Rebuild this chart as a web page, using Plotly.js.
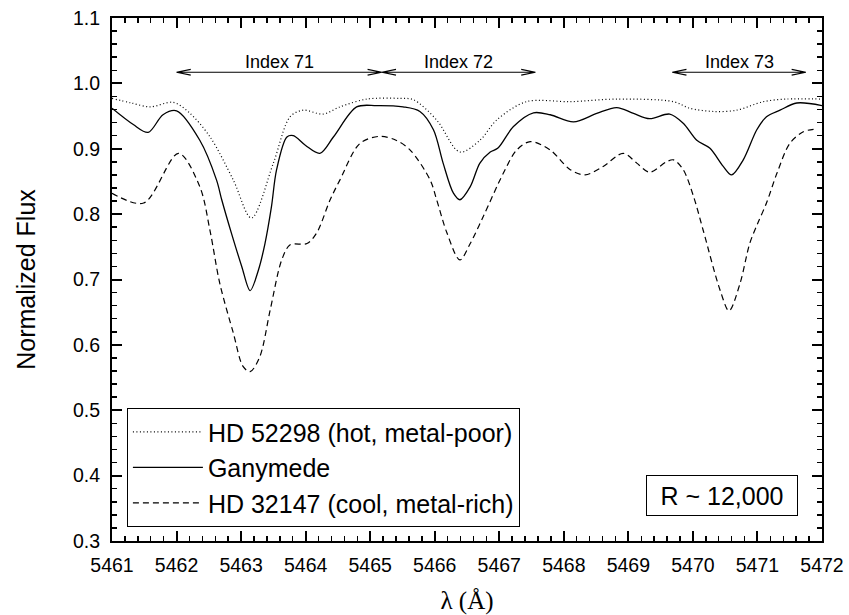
<!DOCTYPE html>
<html>
<head>
<meta charset="utf-8">
<script src="https://cdn.plot.ly/plotly-3.0.1.min.js"></script>
<style>
html,body{margin:0;padding:0;background:#fff;}
#chart{width:849px;height:615px;}
</style>
</head>
<body>
<div id="chart"></div>
<script>
// ---- Data ----
const hotWave = [5461.0, 5461.3, 5461.59, 5461.95, 5462.2, 5462.52, 5462.88, 5463.16, 5463.5, 5463.76, 5463.96, 5464.27, 5464.53, 5464.95, 5465.46, 5465.67, 5466.03, 5466.39, 5466.7, 5466.96, 5467.42, 5468.1, 5468.82, 5469.7, 5469.95, 5470.32, 5470.68, 5471.09, 5471.45, 5472.0];
const hotFlux = [0.977, 0.970, 0.964, 0.971, 0.955, 0.918, 0.852, 0.794, 0.878, 0.949, 0.959, 0.953, 0.964, 0.976, 0.977, 0.975, 0.944, 0.895, 0.913, 0.944, 0.972, 0.972, 0.976, 0.972, 0.962, 0.957, 0.959, 0.972, 0.976, 0.976];

const ganWave = [5461.0, 5461.33, 5461.56, 5461.79, 5462.0, 5462.36, 5462.62, 5462.7, 5462.85, 5463.01, 5463.14, 5463.27, 5463.37, 5463.47, 5463.55, 5463.71, 5463.81, 5464.0, 5464.22, 5464.43, 5464.79, 5465.1, 5465.51, 5465.77, 5465.98, 5466.13, 5466.29, 5466.39, 5466.55, 5466.7, 5466.86, 5466.98, 5467.22, 5467.53, 5467.79, 5468.15, 5468.51, 5468.82, 5469.08, 5469.33, 5469.64, 5469.85, 5470.06, 5470.26, 5470.47, 5470.6, 5470.78, 5470.99, 5471.14, 5471.35, 5471.61, 5472.0];
const ganFlux = [0.962, 0.937, 0.925, 0.952, 0.958, 0.913, 0.852, 0.822, 0.771, 0.720, 0.683, 0.715, 0.755, 0.811, 0.868, 0.918, 0.920, 0.905, 0.893, 0.918, 0.964, 0.966, 0.964, 0.957, 0.929, 0.878, 0.832, 0.822, 0.842, 0.878, 0.895, 0.901, 0.934, 0.955, 0.952, 0.941, 0.954, 0.963, 0.954, 0.946, 0.953, 0.939, 0.913, 0.901, 0.873, 0.860, 0.883, 0.929, 0.949, 0.959, 0.970, 0.966];

const coolWave = [5461.0, 5461.49, 5462.03, 5462.36, 5462.52, 5462.67, 5462.88, 5463.03, 5463.14, 5463.29, 5463.45, 5463.63, 5463.76, 5464.02, 5464.17, 5464.38, 5464.53, 5464.84, 5465.15, 5465.4, 5465.62, 5465.93, 5466.03, 5466.19, 5466.39, 5466.55, 5466.75, 5467.06, 5467.27, 5467.48, 5467.79, 5468.1, 5468.33, 5468.61, 5468.92, 5469.13, 5469.33, 5469.59, 5469.7, 5469.85, 5470.01, 5470.16, 5470.42, 5470.56, 5470.73, 5470.88, 5471.0, 5471.14, 5471.3, 5471.5, 5471.71, 5471.9];
const coolFlux = [0.832, 0.817, 0.893, 0.842, 0.774, 0.694, 0.618, 0.567, 0.559, 0.582, 0.653, 0.730, 0.753, 0.755, 0.771, 0.822, 0.852, 0.908, 0.919, 0.913, 0.898, 0.852, 0.822, 0.771, 0.730, 0.755, 0.796, 0.862, 0.898, 0.911, 0.898, 0.868, 0.860, 0.873, 0.893, 0.878, 0.864, 0.880, 0.883, 0.868, 0.827, 0.775, 0.684, 0.652, 0.694, 0.755, 0.785, 0.817, 0.862, 0.908, 0.926, 0.930];

const seriesNames = ["HD 52298 (hot, metal-poor)", "Ganymede", "HD 32147 (cool, metal-rich)"];

const indexLabels = ["Index 71", "Index 72", "Index 73"];
const indexStart = [5462.0, 5465.18, 5469.68];
const indexEnd = [5465.18, 5467.56, 5471.75];

const xTickVals = [5461, 5462, 5463, 5464, 5465, 5466, 5467, 5468, 5469, 5470, 5471, 5472];
const yTickVals = [0.3, 0.4, 0.5, 0.6, 0.7, 0.8, 0.9, 1.0, 1.1];
const noteText = "R ~ 12,000";

// ---- Styling ----
const SANS = "Liberation Sans, Arial, Helvetica, sans-serif";
const SERIF = "Liberation Serif, Times New Roman, serif";
const arrowY = 1.017, labelY = 1.033, headDx = 0.22, headDy = 0.0045;

const traces = [
  {x: hotWave, y: hotFlux, name: seriesNames[0], mode: "lines", legendgroup: "a",
   line: {color: "#000", width: 1.2, dash: "1px,2.5px", shape: "spline", smoothing: 0.9}},
  {x: ganWave, y: ganFlux, name: seriesNames[1], mode: "lines", legendgroup: "b",
   line: {color: "#000", width: 1.3, shape: "spline", smoothing: 0.9}},
  {x: coolWave, y: coolFlux, name: seriesNames[2], mode: "lines", legendgroup: "c",
   line: {color: "#000", width: 1.2, dash: "6px,4px", shape: "spline", smoothing: 0.9}}
];

const shapes = [];
const annotations = [];
for (let i = 0; i < indexLabels.length; i++) {
  const a = indexStart[i], b = indexEnd[i];
  const p = `M${a},${arrowY} L${b},${arrowY} ` +
            `M${a + headDx},${arrowY + headDy} L${a},${arrowY} L${a + headDx},${arrowY - headDy} ` +
            `M${b - headDx},${arrowY + headDy} L${b},${arrowY} L${b - headDx},${arrowY - headDy}`;
  shapes.push({type: "path", xref: "x", yref: "y", path: p, line: {color: "#000", width: 1.2}});
  annotations.push({x: (a + b) / 2, y: labelY, xref: "x", yref: "y", text: indexLabels[i],
    xanchor: "center", yanchor: "middle", showarrow: false,
    font: {family: SANS, size: 18, color: "#000"}});
}
annotations.push({x: 0.859, y: 0.087, xref: "paper", yref: "paper", text: noteText, showarrow: false,
  xanchor: "center", yanchor: "middle", width: 138, height: 27,
  font: {family: SANS, size: 25, color: "#000"}, bordercolor: "#000", borderwidth: 1, borderpad: 6, bgcolor: "#fff"});

const axisCommon = {
  showline: true, linecolor: "#000", linewidth: 2, mirror: "ticks",
  ticks: "inside", ticklen: 10, tickwidth: 2, tickcolor: "#000",
  showgrid: false, zeroline: false, automargin: false,
  tickfont: {family: SANS, size: 19.5, color: "#000"}
};

const layout = {
  width: 849, height: 615,
  margin: {l: 112, r: 27, t: 18, b: 74},
  paper_bgcolor: "#fff", plot_bgcolor: "#fff",
  showlegend: true,
  legend: {x: 0.021, y: 0.254, xanchor: "left", yanchor: "top",
    bgcolor: "#fff", bordercolor: "#000", borderwidth: 1, itemwidth: 70,
    font: {family: SANS, size: 25, color: "#000"}, tracegroupgap: 0},
  xaxis: Object.assign({}, axisCommon, {
    range: [5461, 5472], tickvals: xTickVals, ticklabelstandoff: 6,
    minor: {dtick: 0.2, ticks: "inside", ticklen: 5, tickwidth: 1.5, tickcolor: "#000"},
    title: {text: "λ (Å)", font: {family: SERIF, size: 25, color: "#000"}, standoff: 18}
  }),
  yaxis: Object.assign({}, axisCommon, {
    range: [0.3, 1.1], tickvals: yTickVals, tickformat: ".1f", ticklabelstandoff: 6,
    minor: {dtick: 0.02, ticks: "inside", ticklen: 5, tickwidth: 1.5, tickcolor: "#000"},
    title: {text: "Normalized Flux", font: {family: SANS, size: 25, color: "#000"}, standoff: 30}
  }),
  shapes: shapes,
  annotations: annotations
};

Plotly.newPlot("chart", traces, layout, {staticPlot: true, displayModeBar: false});
</script>
</body>
</html>
